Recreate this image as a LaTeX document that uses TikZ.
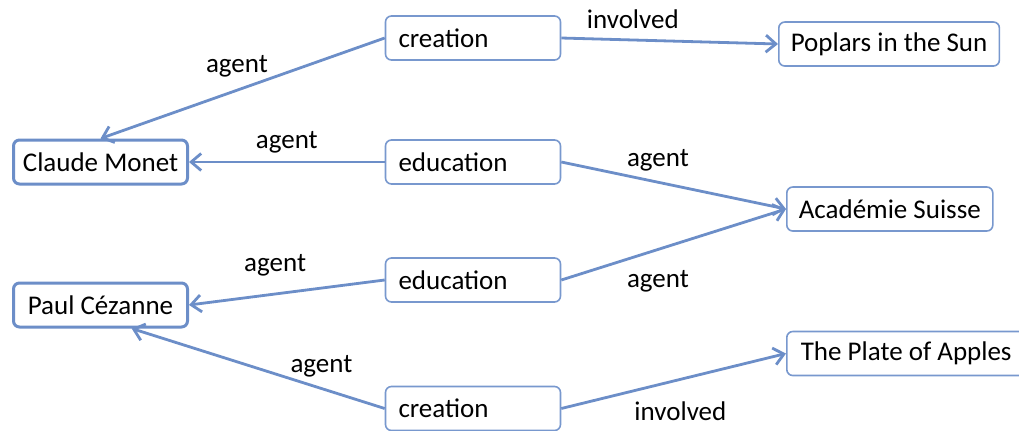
\documentclass[tikz,border=0pt]{standalone}
\usepackage{fontspec}
\setmainfont{Carlito}
\usetikzlibrary{arrows.meta}
\definecolor{linkblue}{RGB}{108,142,200}
\definecolor{boxblue}{RGB}{120,152,206}

\begin{document}
\begin{tikzpicture}[x=0.5pt, y=0.5pt, font=\fontsize{13.5}{16}\selectfont,
event/.style={rectangle, draw=boxblue, line width=0.8pt, rounded corners=3pt, fill=white,
      text width=74.5pt, align=left, inner xsep=6.5pt, minimum height=22pt},
person/.style={rectangle, draw=linkblue, line width=1.5pt, rounded corners=3pt, fill=white,
      minimum width=87pt, minimum height=22pt},
thing/.style={rectangle, draw=boxblue, line width=0.8pt, rounded corners=3pt, fill=white,
      inner xsep=6pt, minimum height=22pt, anchor=west},
link/.style={draw=linkblue, line width=1.4pt, -{Straight Barb[length=5pt,width=8.5pt]}},
lbl/.style={inner sep=1pt}]
 \useasboundingbox (0,0) rectangle (1019,-430);
 \node[person] (monet) at (100.5,-162) {Claude Monet};
 \node[person] (paul) at (100.5,-305) {Paul Cézanne};
 \node[event, right of=monet, node distance=186.25pt] (eduA) {education};
 \node[event, above of=eduA, node distance=62pt] (creA) {creation};
 \node[event, below of=eduA, node distance=59pt] (eduB) {education};
 \node[event, below of=eduB, node distance=64.25pt] (creB) {creation};
 \node[thing] (poplars) at (778,-44) {Poplars in the Sun};
 \node[thing] (academie) at (786,-209) {Académie Suisse};
 \node[thing, inner xsep=7pt] (plate) at (786,-353.5) {The Plate of Apples};

 \draw[link] (creA.west) -- node[lbl, pos=0.52, above=5pt] {agent} (monet.north);
 \draw[link] (creA.east) -- node[lbl, pos=0.33, above=4pt] {involved} (poplars.west);
 \draw[link] (eduA.west) -- node[lbl, pos=0.5, above=2.5pt] {agent} (monet.east);
 \draw[link] (eduA.east) -- node[lbl, pos=0.43, above=4pt] {agent} (academie.west);
 \draw[link] (eduB.east) -- node[lbl, pos=0.43, below=9pt] {agent} (academie.west);
 \draw[link] (eduB.west) -- node[lbl, pos=0.56, above=7pt] {agent} (paul.east);
 \draw[link] (creB.west) -- node[lbl, pos=0.25, above=4pt] {agent} (paul.-37);
 \draw[link] (creB.east) -- node[lbl, pos=0.53, below=9.5pt] {involved} (plate.west);
\end{tikzpicture}
\end{document}
